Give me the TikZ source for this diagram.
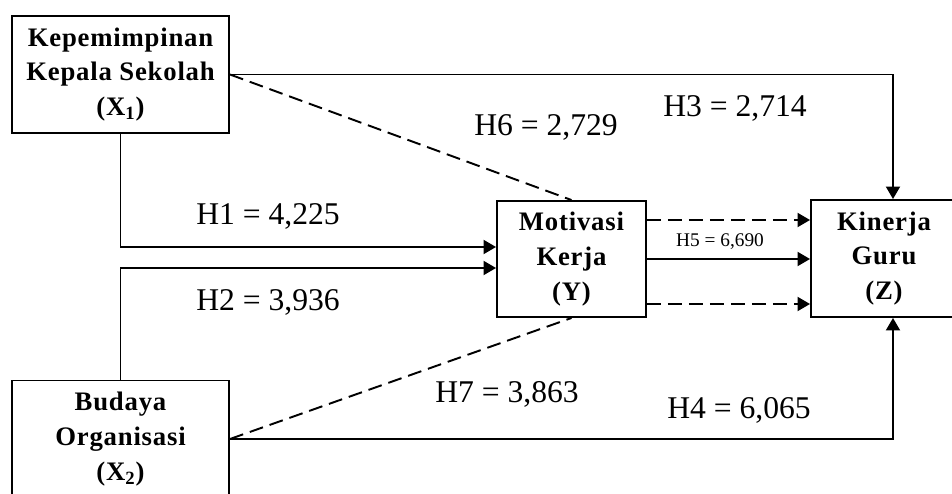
\documentclass[tikz,border=0pt]{standalone}
\usepackage{fontspec}
\setmainfont{Liberation Serif}
\newfontfamily\boxfont[LetterSpace=3]{Liberation Serif}
\usetikzlibrary{arrows.meta}

\begin{document}
\begin{tikzpicture}[
    var_box/.style={rectangle, draw, line width=1.1pt, inner sep=0pt, align=center,
        minimum width=4.34cm, minimum height=2.34cm,
        font=\boxfont\bfseries\fontsize{15.2}{19.8}\selectfont},
    path_label/.style={inner sep=0pt, font=\fontsize{18}{20}\selectfont},
    direct/.style={-{Triangle[length=2.5mm,width=2.8mm]}, line width=1.1pt},
    indirect/.style={direct, dash pattern=on 2.8mm off 1.4mm}
]
    \clip (0,0) rectangle (19.04,9.86);
    \node[var_box] (X1) at (2.41,8.37) {Kepemimpinan\\Kepala Sekolah\\(X\textsubscript{1})};
    \node[var_box] (X2) at (2.41,1.08) {Budaya\\Organisasi\\(X\textsubscript{2})};
    \node[var_box, minimum width=2.98cm, minimum height=2.32cm] (Y) at (11.43,4.68) {Motivasi\\Kerja\\(Y)};
    \node[var_box, minimum width=2.92cm] (Z) at (17.68,4.69) {Kinerja\\Guru\\(Z)};
    \node[path_label] (H1) at (5.36,5.54) {H1 = 4,225};
    \node[path_label] (H2) at (5.36,3.82) {H2 = 3,936};
    \node[path_label] (H3) at (14.70,7.70) {H3 = 2,714};
    \node[path_label] (H4) at (14.78,1.66) {H4 = 6,065};
    \node[path_label, font=\fontsize{11}{12}\selectfont] (H5) at (14.40,5.02) {H5 = 6,690};
    \node[path_label] (H6) at (10.92,7.32) {H6 = 2,729};
    \node[path_label] (H7) at (10.14,1.98) {H7 = 3,863};
    \draw [direct] (X1.south) |- ([yshift=2.4mm]Y.west);
    \draw [direct] (X2.north) |- ([yshift=-1.8mm]Y.west);
    \draw [direct] (X1.east) -| ([xshift=1.8mm]Z.north);
    \draw [direct] (X2.east) -| ([xshift=1.8mm]Z.south);
    \draw [direct] (Y.east) -- (Y.east -| Z.west);
    \draw [indirect] ([yshift=7.8mm]Y.east) -- ([yshift=7.8mm]Y.east -| Z.west);
    \draw [indirect] ([yshift=-9mm]Y.east) -- ([yshift=-9mm]Y.east -| Z.west);
    \draw [line width=1.1pt, dash pattern=on 2.8mm off 1.4mm] (X1.east) -- (Y.north);
    \draw [line width=1.1pt, dash pattern=on 2.8mm off 1.4mm] (X2.east) -- (Y.south);
\end{tikzpicture}
\end{document}
